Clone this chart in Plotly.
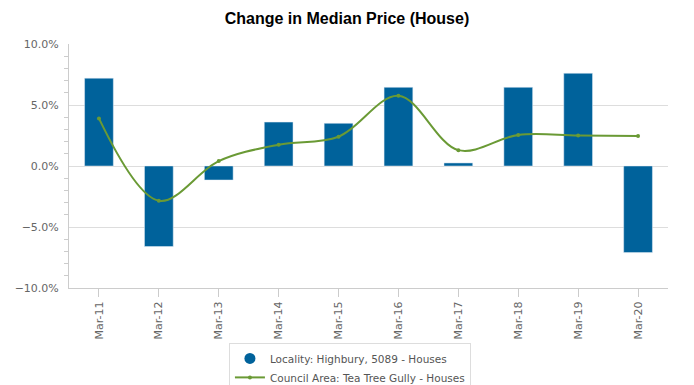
import plotly.graph_objects as go

categories = ["Mar-11", "Mar-12", "Mar-13", "Mar-14", "Mar-15", "Mar-16", "Mar-17", "Mar-18", "Mar-19", "Mar-20"]
locality_values = [7.2, -6.6, -1.15, 3.6, 3.5, 6.45, 0.25, 6.45, 7.6, -7.1]
council_values = [3.9, -2.85, 0.4, 1.75, 2.4, 5.75, 1.3, 2.55, 2.5, 2.45]

bar_color = "#00629B"
line_color = "#6A9A35"
font_family = "DejaVu Sans"

fig = go.Figure()
fig.add_trace(go.Bar(
    x=categories, y=locality_values, marker_color=bar_color, width=0.48,
    showlegend=False, name="Locality: Highbury, 5089 - Houses",
))
fig.add_trace(go.Scatter(
    x=[None], y=[None], mode="markers",
    marker=dict(symbol="circle", size=11, color=bar_color),
    name="Locality: Highbury, 5089 - Houses",
))
fig.add_trace(go.Scatter(
    x=categories, y=council_values, mode="lines+markers",
    line=dict(color=line_color, width=2, shape="spline", smoothing=1.0),
    marker=dict(size=4, color=line_color),
    name="Council Area: Tea Tree Gully - Houses",
))

fig.update_layout(
    width=694, height=385,
    margin=dict(l=69, r=26, t=44, b=97, autoexpand=False),
    paper_bgcolor="white", plot_bgcolor="white",
    title=dict(text="<b>Change in Median Price (House)</b>", x=0.5, xanchor="center",
               y=0.953, yanchor="middle",
               font=dict(family="Liberation Sans", size=16, color="#000")),
    font=dict(family=font_family, size=11, color="#666"),
    legend=dict(x=0.267, xanchor="left", y=-0.225, yanchor="top",
                bordercolor="#dddddd", borderwidth=1, bgcolor="white",
                font=dict(family=font_family, size=10.5, color="#555"),
                tracegroupgap=0, itemwidth=30),
    xaxis=dict(
        type="category", range=[-0.5, 9.5], tickangle=-90, automargin=False,
        showline=True, linecolor="#cccccc", linewidth=1,
        ticks="outside", ticklen=8, tickcolor="#cccccc",
        showgrid=False, tickfont=dict(size=11, color="#666"),
    ),
    yaxis=dict(
        range=[-10, 10], dtick=5, tickformat=".1f", ticksuffix="%", automargin=False,
        showline=True, linecolor="#cccccc", linewidth=1,
        gridcolor="#dddddd", gridwidth=1, zeroline=False,
        ticks="", ticklabelstandoff=7, tickfont=dict(size=11, color="#666"),
        minor=dict(dtick=1, ticks="outside", ticklen=4, tickcolor="#cccccc", showgrid=False),
    ),
)

fig.write_html("out.html", config={"displayModeBar": False},
               post_script="document.body.style.margin='0';document.body.style.overflow='hidden';")
